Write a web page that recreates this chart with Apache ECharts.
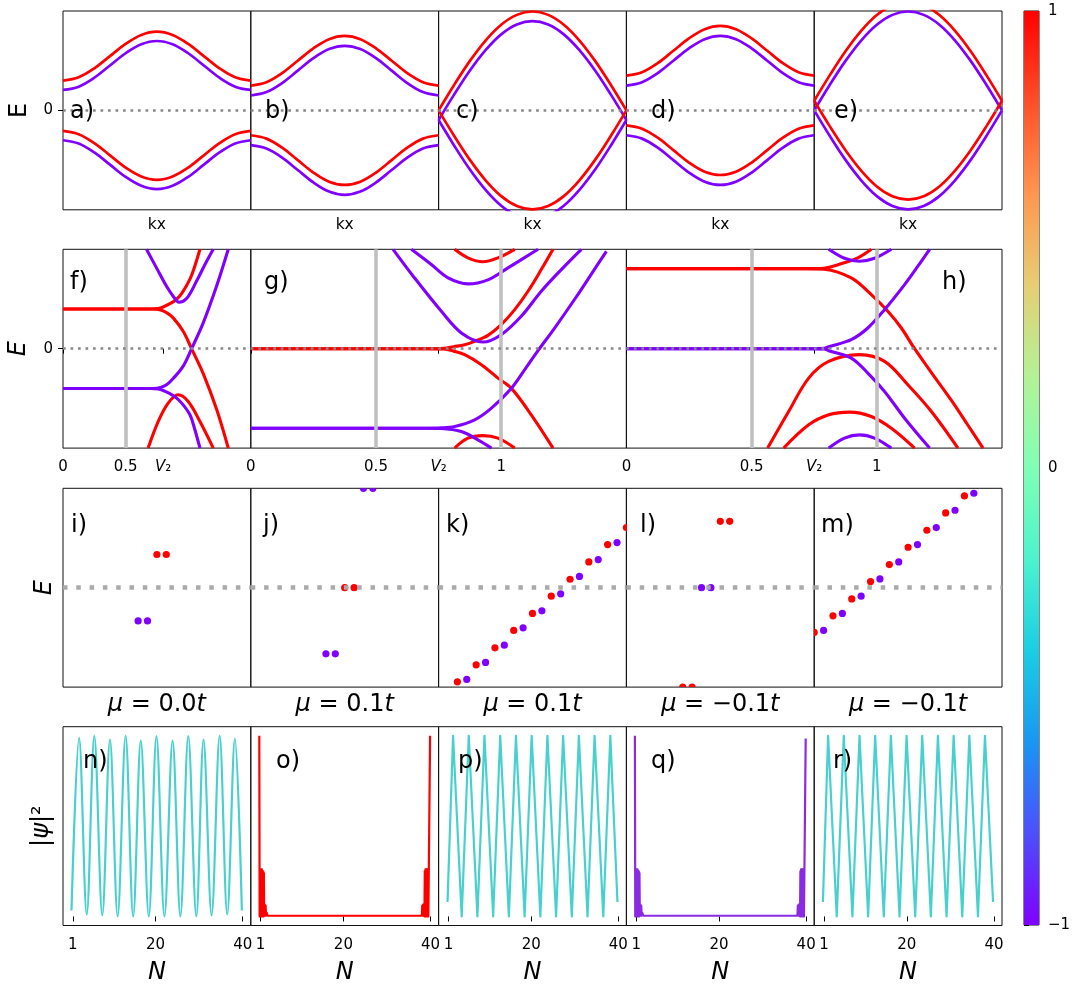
<!DOCTYPE html>
<html>
<head>
<meta charset="utf-8">
<title>Bands, spectra and edge states</title>
<script src="https://cdn.jsdelivr.net/npm/echarts@6.0.0/dist/echarts.min.js"></script>
<style>
html, body { margin: 0; padding: 0; background: #fff; }
#chart { width: 1081px; height: 986px; }
</style>
</head>
<body>
<div id="chart"></div>
<script>
// ---------- Row 1: bulk bands E(kx) across the zone ----------
const kx = [0, 0.0833, 0.1667, 0.25, 0.3333, 0.4167, 0.5, 0.5833, 0.6667, 0.75, 0.8333, 0.9167, 1];

const aRedUp = [0.300, 0.333, 0.423, 0.546, 0.669, 0.759, 0.792, 0.759, 0.669, 0.546, 0.423, 0.333, 0.300];
const aRedDn = [-0.206, -0.239, -0.329, -0.452, -0.575, -0.665, -0.698, -0.665, -0.575, -0.452, -0.329, -0.239, -0.206];
const aPurUp = [0.206, 0.239, 0.329, 0.452, 0.575, 0.665, 0.698, 0.665, 0.575, 0.452, 0.329, 0.239, 0.206];
const aPurDn = [-0.300, -0.333, -0.423, -0.546, -0.669, -0.759, -0.792, -0.759, -0.669, -0.546, -0.423, -0.333, -0.300];

const bRedUp = [0.25, 0.284, 0.375, 0.5, 0.625, 0.717, 0.75, 0.717, 0.625, 0.5, 0.375, 0.284, 0.25];
const bRedDn = [-0.25, -0.284, -0.375, -0.5, -0.625, -0.717, -0.75, -0.717, -0.625, -0.5, -0.375, -0.284, -0.25];
const bPurUp = [0.15, 0.184, 0.275, 0.4, 0.525, 0.617, 0.65, 0.617, 0.525, 0.4, 0.275, 0.184, 0.15];
const bPurDn = [-0.35, -0.384, -0.475, -0.6, -0.725, -0.817, -0.85, -0.817, -0.725, -0.6, -0.475, -0.384, -0.35];

const cRedUp = [0, 0.258, 0.498, 0.703, 0.862, 0.961, 0.995, 0.961, 0.862, 0.703, 0.498, 0.258, 0];
const cRedDn = [0, -0.258, -0.498, -0.703, -0.862, -0.961, -0.995, -0.961, -0.862, -0.703, -0.498, -0.258, 0];
const cPurUp = [-0.097, 0.161, 0.401, 0.606, 0.765, 0.864, 0.898, 0.864, 0.765, 0.606, 0.401, 0.161, -0.097];
const cPurDn = [-0.097, -0.355, -0.595, -0.800, -0.959, -1.058, -1.092, -1.058, -0.959, -0.800, -0.595, -0.355, -0.097];

const dRedUp = [0.35, 0.384, 0.475, 0.6, 0.725, 0.817, 0.85, 0.817, 0.725, 0.6, 0.475, 0.384, 0.35];
const dRedDn = [-0.15, -0.184, -0.275, -0.4, -0.525, -0.617, -0.65, -0.617, -0.525, -0.4, -0.275, -0.184, -0.15];
const dPurUp = [0.25, 0.284, 0.375, 0.5, 0.625, 0.717, 0.75, 0.717, 0.625, 0.5, 0.375, 0.284, 0.25];
const dPurDn = [-0.25, -0.284, -0.375, -0.5, -0.625, -0.717, -0.75, -0.717, -0.625, -0.5, -0.375, -0.284, -0.25];

const eRedUp = [0.097, 0.355, 0.595, 0.800, 0.959, 1.058, 1.092, 1.058, 0.959, 0.800, 0.595, 0.355, 0.097];
const eRedDn = [0.097, -0.161, -0.401, -0.606, -0.765, -0.864, -0.898, -0.864, -0.765, -0.606, -0.401, -0.161, 0.097];
const ePurUp = [0, 0.258, 0.498, 0.703, 0.862, 0.961, 0.995, 0.961, 0.862, 0.703, 0.498, 0.258, 0];
const ePurDn = [0, -0.258, -0.498, -0.703, -0.862, -0.961, -0.995, -0.961, -0.862, -0.703, -0.498, -0.258, 0];

// ---------- Row 2: finite-size levels vs V, [V, E] ----------
const fRedA = [[0, 0.4], [0.70, 0.4], [0.76, 0.405], [0.80, 0.42], [0.85, 0.45], [0.90, 0.49], [0.95, 0.56], [1.014, 0.70], [1.05, 0.82], [1.094, 1.0]];
const fRedB = [[0, 0.4], [0.72, 0.4], [0.78, 0.39], [0.83, 0.36], [0.88, 0.31], [0.96, 0.175], [1.027, 0], [1.12, -0.25], [1.227, -0.61], [1.32, -1.0]];
const fPurA = [[0, -0.4], [0.72, -0.4], [0.78, -0.39], [0.83, -0.36], [0.88, -0.30], [0.96, -0.175], [1.027, 0], [1.12, 0.26], [1.227, 0.63], [1.32, 1.0]];
const fPurB = [[0, -0.4], [0.70, -0.4], [0.76, -0.405], [0.80, -0.42], [0.85, -0.45], [0.90, -0.49], [0.95, -0.55], [1.014, -0.665], [1.05, -0.80], [1.094, -1.0]];
const fPurU = [[0.667, 1.0], [0.747, 0.813], [0.827, 0.628], [0.88, 0.528], [0.926, 0.467], [0.987, 0.504], [1.067, 0.68], [1.134, 0.847], [1.2, 1.0]];
const fRedN = [[0.68, -1.0], [0.76, -0.733], [0.84, -0.548], [0.92, -0.464], [1.0, -0.531], [1.094, -0.733], [1.2, -1.0]];

const gRedA = [[0, 0], [0.70, 0], [0.77, 0.003], [0.81, 0.02], [0.854, 0.04], [0.894, 0.074], [0.947, 0.134], [1.0, 0.242], [1.054, 0.393], [1.107, 0.578], [1.16, 0.796], [1.207, 1.0]];
const gRedB = [[0, 0], [0.70, 0], [0.77, -0.003], [0.81, -0.025], [0.854, -0.06], [0.921, -0.161], [0.987, -0.296], [1.04, -0.397], [1.12, -0.665], [1.207, -1.0]];
const gPurA = [[0, -0.8], [0.70, -0.8], [0.76, -0.797], [0.814, -0.783], [0.894, -0.716], [0.961, -0.598], [1.04, -0.40], [1.094, -0.21], [1.147, -0.02], [1.214, 0.21], [1.294, 0.50], [1.36, 0.75], [1.42, 0.98]];
const gPurB = [[0, -0.8], [0.70, -0.8], [0.76, -0.803], [0.841, -0.834], [0.907, -0.917], [0.961, -1.0]];
const gPurU1 = [[0.568, 1.0], [0.654, 0.712], [0.761, 0.376], [0.841, 0.158], [0.927, 0.067], [1.0, 0.141], [1.08, 0.326], [1.16, 0.578], [1.24, 0.796], [1.32, 1.0]];
const gPurU2 = [[0.641, 1.0], [0.721, 0.847], [0.788, 0.712], [0.867, 0.652], [0.947, 0.693], [1.027, 0.813], [1.147, 1.0]];
const gRedU = [[0.814, 1.0], [0.867, 0.914], [0.927, 0.874], [0.987, 0.914], [1.054, 1.0]];
const gRedN = [[0.814, -1.0], [0.867, -0.90], [0.927, -0.874], [0.987, -0.90], [1.054, -1.0]];

const hRedA = [[0, 0.806], [0.72, 0.806], [0.79, 0.81], [0.848, 0.847], [0.924, 0.914], [0.978, 1.0]];
const hRedB = [[0, 0.806], [0.72, 0.806], [0.79, 0.80], [0.898, 0.712], [0.978, 0.544], [1.044, 0.376], [1.098, 0.208], [1.151, 0], [1.218, -0.24], [1.298, -0.52], [1.364, -0.77], [1.424, -1.0]];
const hPurA = [[0, 0], [0.72, 0], [0.79, 0.003], [0.808, 0.02], [0.898, 0.091], [0.964, 0.208], [1.031, 0.393], [1.111, 0.645], [1.164, 0.83], [1.211, 1.0]];
const hPurB = [[0, 0], [0.72, 0], [0.79, -0.003], [0.808, -0.02], [0.898, -0.094], [0.964, -0.245], [1.031, -0.43], [1.111, -0.699], [1.211, -1.0]];
const hPurU = [[0.808, 1.0], [0.871, 0.91], [0.931, 0.88], [0.991, 0.91], [1.058, 1.0]];
const hRedN1 = [[0.564, -1.0], [0.648, -0.632], [0.728, -0.296], [0.808, -0.128], [0.931, -0.06], [1.031, -0.128], [1.124, -0.363], [1.218, -0.632], [1.324, -1.0]];
const hRedN2 = [[0.628, -1.0], [0.728, -0.766], [0.808, -0.665], [0.891, -0.638], [0.978, -0.682], [1.058, -0.80], [1.151, -1.0]];
const hPurN = [[0.808, -1.0], [0.871, -0.90], [0.931, -0.867], [0.991, -0.90], [1.058, -1.0]];

// ---------- Row 3: eigenvalues near zero, [index, E] ----------
const iRed = [[10, 0.334], [11, 0.334]];
const iPur = [[8, -0.334], [9, -0.334]];
const jRed = [[10, 0], [11, 0]];
const jPur = [[8, -0.665], [9, -0.665], [12, 1.0], [13, 1.0]];
const kRed = [[2, -0.947], [4, -0.776], [6, -0.605], [8, -0.430], [10, -0.259], [12, -0.085], [14, 0.085], [16, 0.259], [18, 0.434], [20, 0.605]];
const kPur = [[3, -0.923], [5, -0.752], [7, -0.578], [9, -0.404], [11, -0.233], [13, -0.062], [15, 0.113], [17, 0.283], [19, 0.454]];
const lRed = [[6, -1.0], [7, -1.0], [10, 0.668], [11, 0.668]];
const lPur = [[8, 0], [9, 0]];
const mRed = [[0, -0.450], [2, -0.283], [4, -0.113], [6, 0.062], [8, 0.233], [10, 0.407], [12, 0.578], [14, 0.752], [16, 0.923]];
const mPur = [[1, -0.430], [3, -0.259], [5, -0.085], [7, 0.088], [9, 0.259], [11, 0.434], [13, 0.605], [15, 0.779], [17, 0.950]];
const muLabels = ['0.0', '0.1', '0.1', '\u22120.1', '\u22120.1'];

// ---------- Row 4: |psi|^2 along the chain, [N, weight] ----------
const nPsi = [[0.7, 0.033], [2.44, 0.988], [4.2, 0.011], [5.94, 1.0], [7.77, 0.006], [9.53, 0.978], [11.29, 0.0], [13.12, 1.0], [14.86, 0.0], [16.6, 0.973], [18.44, 0.0], [20.2, 0.998], [22.03, 0.0], [23.9, 0.973], [25.69, 0.0], [27.5, 0.998], [29.35, 0.0], [31.0, 0.978], [32.85, 0.006], [34.7, 1.0], [36.44, 0.011], [38.2, 0.984], [39.8, 0.033]];
const oPsi = [[0.7, 1.0], [0.78, 0.0], [0.85, 0.26], [0.93, 0.0], [1.0, 0.26], [1.08, 0.0], [1.15, 0.26], [1.23, 0.0], [1.3, 0.26], [1.38, 0.0], [1.45, 0.25], [1.53, 0.0], [1.6, 0.25], [1.68, 0.0], [1.75, 0.24], [1.83, 0.004], [1.95, 0.066], [2.05, 0.004], [2.15, 0.06], [2.25, 0.004], [2.4, 0.02], [2.6, 0.004], [2.9, 0.008], [3.2, 0.004], [37.5, 0.004], [37.8, 0.008], [38.0, 0.004], [38.1, 0.06], [38.2, 0.004], [38.3, 0.066], [38.4, 0.004], [38.5, 0.066], [38.6, 0.0], [38.68, 0.25], [38.75, 0.0], [38.83, 0.26], [38.9, 0.0], [38.98, 0.26], [39.05, 0.0], [39.13, 0.26], [39.2, 0.0], [39.28, 0.26], [39.35, 0.0], [39.43, 0.26], [39.5, 0.0], [39.85, 0.0], [39.9, 1.0]];
const pPsi = [[0.8, 0.08], [2.07, 1.0], [2.43, 1.0], [4.05, 0.0], [5.67, 1.0], [6.03, 1.0], [7.66, 0.0], [9.28, 1.0], [9.64, 1.0], [11.27, 0.0], [12.89, 1.0], [13.25, 1.0], [14.88, 0.0], [16.5, 1.0], [16.86, 1.0], [18.49, 0.0], [20.11, 1.0], [20.47, 1.0], [22.1, 0.0], [23.72, 1.0], [24.08, 1.0], [25.71, 0.0], [27.33, 1.0], [27.69, 1.0], [29.32, 0.0], [30.94, 1.0], [31.3, 1.0], [32.93, 0.0], [34.55, 1.0], [34.91, 1.0], [36.54, 0.0], [38.16, 1.0], [38.52, 1.0], [39.8, 0.08]];
const qPsi = [[0.7, 1.0], [0.78, 0.0], [0.85, 0.26], [0.93, 0.0], [1.0, 0.26], [1.08, 0.0], [1.15, 0.26], [1.23, 0.0], [1.3, 0.26], [1.38, 0.0], [1.45, 0.25], [1.53, 0.0], [1.6, 0.25], [1.68, 0.0], [1.75, 0.24], [1.83, 0.004], [1.95, 0.066], [2.05, 0.004], [2.15, 0.06], [2.25, 0.004], [2.4, 0.02], [2.6, 0.004], [2.9, 0.008], [3.2, 0.004], [37.5, 0.004], [37.8, 0.008], [38.0, 0.004], [38.1, 0.06], [38.2, 0.004], [38.3, 0.066], [38.4, 0.004], [38.5, 0.066], [38.6, 0.0], [38.68, 0.25], [38.75, 0.0], [38.83, 0.26], [38.9, 0.0], [38.98, 0.26], [39.05, 0.0], [39.13, 0.26], [39.2, 0.0], [39.28, 0.26], [39.35, 0.0], [39.43, 0.26], [39.5, 0.0], [39.85, 0.0], [39.9, 0.985]];
const rPsi = [[0.75, 0.08], [1.94, 1.0], [2.3, 1.0], [3.92, 0.0], [5.54, 1.0], [5.9, 1.0], [7.52, 0.0], [9.15, 1.0], [9.51, 1.0], [11.13, 0.0], [12.74, 1.0], [13.1, 1.0], [14.72, 0.0], [16.35, 1.0], [16.71, 1.0], [18.33, 0.0], [19.95, 1.0], [20.31, 1.0], [21.93, 0.0], [23.54, 1.0], [23.9, 1.0], [25.52, 0.0], [27.14, 1.0], [27.5, 1.0], [29.12, 0.0], [30.75, 1.0], [31.11, 1.0], [32.73, 0.0], [34.36, 1.0], [34.72, 1.0], [36.33, 0.0], [37.94, 1.0], [38.3, 1.0], [39.8, 0.08]];

const nTicks = [1, 20, 40];
const cbarTicks = [-1, 0, 1];
// matplotlib "rainbow", from -1 (bottom) to 1 (top)
const rainbow = ['#8000ff', '#4d4ffc', '#1a96f2', '#1acee3', '#4df2ce', '#80ffb4', '#b3f296', '#e6ce74', '#ff964f', '#ff4f28', '#ff0000'];

// ---------- layout ----------
const FONT = 'DejaVu Sans';
const RED = '#ff0000', PURPLE = '#8000ff', CYAN = '#48d1cc', VIOLET = '#8a2be2';
const COLS = [63, 250.8, 438.6, 626.4, 814.2];
const PW = 187.8;
const TOPS = [11, 249.3, 488.3, 726.7];
const PH = 198.8;

const grids = [], xAxes = [], yAxes = [], series = [];

function plainAxis(extra) {
  return Object.assign({
    type: 'value',
    axisLine: { show: false },
    axisTick: { show: false },
    axisLabel: { show: false },
    splitLine: { show: false }
  }, extra || {});
}
function addGrid(left, top, width, height, xa, ya) {
  const gi = grids.length;
  grids.push({ left, top, width, height, show: true, borderColor: '#111', borderWidth: 1, backgroundColor: 'transparent' });
  xAxes.push(Object.assign(plainAxis(xa), { gridIndex: gi }));
  yAxes.push(Object.assign(plainAxis(ya), { gridIndex: gi }));
  return gi;
}
function ticks(values) {
  return { show: true, customValues: values, length: 5, lineStyle: { color: '#000', width: 1 } };
}
function tickLabels(values, margin, formatter) {
  const o = { show: true, customValues: values, fontSize: 15, fontFamily: FONT, color: '#000', margin,
    rich: { v: { fontStyle: 'italic', fontSize: 15, fontFamily: FONT, color: '#000' } } };
  if (formatter) o.formatter = formatter;
  return o;
}
function curve(gi, data, color, width, smooth) {
  series.push({ type: 'line', xAxisIndex: gi, yAxisIndex: gi, data, symbol: 'none', showSymbol: false,
    smooth: smooth === undefined ? 0.35 : smooth, clip: true, silent: true, z: 3,
    lineStyle: { color, width, cap: 'butt', join: 'round' } });
}
function dots(gi, data, color) {
  series.push({ type: 'custom', xAxisIndex: gi, yAxisIndex: gi, data, clip: true, silent: true, z: 4,
    renderItem: (params, api) => {
      const p = api.coord([api.value(0), api.value(1)]);
      return { type: 'circle', shape: { cx: p[0], cy: p[1], r: 3.6 }, style: { fill: color } };
    } });
}
function guides(gi, items) {
  series.push({ type: 'line', xAxisIndex: gi, yAxisIndex: gi, data: [], z: 1, silent: true,
    markLine: { silent: true, symbol: ['none', 'none'], label: { show: false }, animation: false, data: items } });
}
const zeroFine = () => ({ yAxis: 0, lineStyle: { color: '#888', width: 2.7, type: [2.7, 4.8] } });
const zeroWide = () => ({ yAxis: 0, lineStyle: { color: '#aaa', width: 4.5, type: [4.5, 8.8] } });
const grayAt = v => ({ xAxis: v, lineStyle: { color: '#c0c0c0', width: 3.6, type: 'solid' } });

const nameStyle = (italic) => ({ fontSize: 24, fontFamily: FONT, color: '#000', fontStyle: italic ? 'italic' : 'normal' });

// Row 1
const row1 = [
  [aPurUp, aPurDn, aRedUp, aRedDn],
  [bPurUp, bPurDn, bRedUp, bRedDn],
  [cPurUp, cPurDn, cRedUp, cRedDn],
  [dPurUp, dPurDn, dRedUp, dRedDn],
  [ePurUp, ePurDn, eRedUp, eRedDn]
];
row1.forEach((bands, c) => {
  const ya = { min: -1, max: 1 };
  if (c === 0) Object.assign(ya, {
    axisTick: ticks([0]), axisLabel: tickLabels([0], 10),
    name: 'E', nameLocation: 'middle', nameRotate: 90, nameGap: 31, nameTextStyle: nameStyle(false)
  });
  const gi = addGrid(COLS[c], TOPS[0], PW, PH,
    { min: 0, max: 1, name: 'kx', nameLocation: 'middle', nameGap: 7,
      nameTextStyle: { fontSize: 15.5, fontFamily: FONT, color: '#000' } }, ya);
  guides(gi, [zeroFine()]);
  bands.forEach((v, j) => curve(gi, kx.map((k, i) => [k, v[i]]), j < 2 ? PURPLE : RED, 2.7));
});

// Row 2
const row2 = [
  { left: COLS[0], width: PW, ticks: [0, 0.5, 0.8], v2: 0.8, grays: [0.5],
    red: [fRedA, fRedB, fRedN], pur: [fPurA, fPurB, fPurU] },
  { left: COLS[1], width: 2 * PW, ticks: [0, 0.5, 0.75, 1], v2: 0.75, grays: [0.5, 1],
    red: [gRedA, gRedB, gRedU, gRedN], pur: [gPurA, gPurB, gPurU1, gPurU2] },
  { left: COLS[3], width: 2 * PW, ticks: [0, 0.5, 0.75, 1], v2: 0.75, grays: [0.5, 1],
    red: [hRedA, hRedB, hRedN1, hRedN2], pur: [hPurA, hPurB, hPurU, hPurN] }
];
row2.forEach((p, c) => {
  const ya = { min: -1, max: 1 };
  if (c === 0) Object.assign(ya, {
    axisTick: ticks([0]), axisLabel: tickLabels([0], 10),
    name: 'E', nameLocation: 'middle', nameRotate: 90, nameGap: 32, nameTextStyle: nameStyle(true)
  });
  const gi = addGrid(p.left, TOPS[1], p.width, PH,
    { min: 0, max: 1.5, axisTick: ticks(p.ticks),
      axisLabel: tickLabels(p.ticks, 12, v => (Math.abs(v - p.v2) < 1e-9 ? '{v|V}\u2082' : String(v))) }, ya);
  guides(gi, p.grays.map(grayAt).concat([zeroFine()]));
  p.red.forEach(d => curve(gi, d, RED, 3.1));
  p.pur.forEach(d => curve(gi, d, PURPLE, 3.1));
});

// Row 3
const row3 = [[iRed, iPur], [jRed, jPur], [kRed, kPur], [lRed, lPur], [mRed, mPur]];
row3.forEach((pair, c) => {
  const ya = { min: -1, max: 1 };
  if (c === 0) Object.assign(ya, { name: 'E', nameLocation: 'middle', nameRotate: 90, nameGap: 6, nameTextStyle: nameStyle(true) });
  const gi = addGrid(COLS[c], TOPS[2], PW, PH,
    { min: 0, max: 20, name: '{i|\u03bc} = ' + muLabels[c] + '{i|t}', nameLocation: 'middle', nameGap: 6,
      nameTextStyle: Object.assign(nameStyle(false), { rich: { i: nameStyle(true) } }) }, ya);
  guides(gi, [zeroWide()]);
  dots(gi, pair[1], PURPLE);
  dots(gi, pair[0], RED);
});

// Row 4
const row4 = [[nPsi, CYAN, 0.35], [oPsi, RED, false], [pPsi, CYAN, false], [qPsi, VIOLET, false], [rPsi, CYAN, false]];
row4.forEach((p, c) => {
  const ya = { min: -0.05, max: 1.05 };
  if (c === 0) Object.assign(ya, { name: '|{i|\u03c8}|\u00b2', nameLocation: 'middle', nameRotate: 90, nameGap: 9,
    nameTextStyle: Object.assign(nameStyle(false), { rich: { i: nameStyle(true) } }) });
  const gi = addGrid(COLS[c], TOPS[3], PW, PH,
    { min: -1.25, max: 41.85, axisTick: ticks(nTicks), axisLabel: tickLabels(nTicks, 12),
      name: 'N', nameLocation: 'middle', nameGap: 35, nameTextStyle: nameStyle(true) }, ya);
  curve(gi, p[0], p[1], 2.2, p[2]);
});

// Colour bar
const cb = addGrid(1024, 11, 15, 914, { min: 0, max: 1 },
  { min: -1, max: 1, position: 'right', axisTick: ticks(cbarTicks),
    axisLabel: tickLabels(cbarTicks, 9, v => (v < 0 ? '\u2212' + Math.abs(v) : String(v))) });
series.push({ type: 'custom', xAxisIndex: cb, yAxisIndex: cb, data: [[0, -1, 1]], silent: true, z: 1,
  encode: { x: 0, y: [1, 2] },
  renderItem: (params, api) => {
    const lo = api.coord([0, api.value(1)]);
    const hi = api.coord([1, api.value(2)]);
    const stops = rainbow.map((col, i) => ({ offset: 1 - i / (rainbow.length - 1), color: col }));
    return { type: 'rect', shape: { x: lo[0], y: hi[1], width: hi[0] - lo[0], height: lo[1] - hi[1] },
      style: { fill: new echarts.graphic.LinearGradient(0, 0, 0, 1, stops.reverse()) } };
  } });

// Panel letters
const tags = [
  ['a)', 70, 112], ['b)', 265, 112], ['c)', 456, 112], ['d)', 651, 112], ['e)', 834, 112],
  ['f)', 70, 283], ['g)', 264, 283], ['h)', 942, 283],
  ['i)', 71, 526], ['j)', 263, 526], ['k)', 446, 526], ['l)', 640, 526], ['m)', 821, 526],
  ['n)', 83, 762], ['o)', 276, 762], ['p)', 458, 762], ['q)', 651, 762], ['r)', 833, 762]
];
const graphic = tags.map(t => ({ type: 'text', x: t[1], y: t[2], z: 10, silent: true,
  style: { text: t[0], font: '24px "DejaVu Sans"', fill: '#000', verticalAlign: 'middle', align: 'left' } }));

const chart = echarts.init(document.getElementById('chart'), null, { renderer: 'canvas', width: 1081, height: 986 });
chart.setOption({
  animation: false,
  backgroundColor: '#ffffff',
  textStyle: { fontFamily: FONT },
  grid: grids, xAxis: xAxes, yAxis: yAxes, series, graphic
});
</script>
</body>
</html>
